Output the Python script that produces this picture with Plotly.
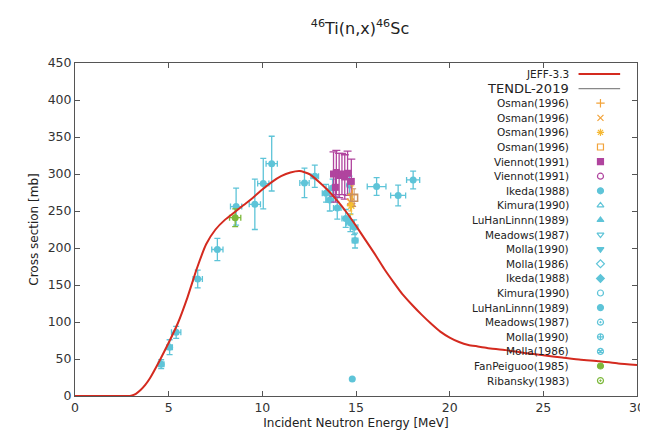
import plotly.graph_objects as go

# ---------------- data ----------------
jeff_E = [0, 1, 2, 2.8, 3.0, 3.25, 3.5, 3.75, 4.0, 4.5, 5.0, 5.5, 6.0, 6.5, 7.0, 7.5, 8.0, 8.5,
          9.0, 9.5, 10.0, 10.5, 11.0, 11.5, 12.0, 12.5, 13.0, 13.5, 14.0, 14.5, 15.0, 15.5,
          16.0, 16.5, 17.0, 17.5, 18.0, 18.5, 19.0, 19.5, 20.0, 20.5, 21.0, 21.5, 22, 23, 24,
          25, 26, 27, 28, 29, 30]
jeff_xs = [0, 0, 0, 0, 0.5, 3, 8, 15, 24, 47, 72, 99, 133, 172, 205, 225, 238, 248,
           258, 268, 279, 289, 297, 302, 304, 300, 290, 278, 264, 248, 230, 211,
           192, 172, 154, 137, 123, 110, 98, 87, 79, 73, 69, 67, 65, 62, 58,
           55, 52, 49, 47, 44, 42]

ikeda_E = [4.6, 5.05, 5.4, 6.55, 7.6, 8.6, 9.6, 10.05, 10.5, 12.25, 12.8, 13.4, 13.6, 13.75,
           14.0, 14.45, 14.7, 14.9, 14.95, 14.65, 14.8, 16.1, 17.25, 18.05]
ikeda_xs = [43, 66, 86, 158, 198, 256, 259, 287, 314, 288, 297, 274, 265, 281,
            254, 240, 234, 228, 210, 285, 23, 283, 271, 292]
ikeda_dE = [0.15, 0.15, 0.25, 0.25, 0.3, 0.3, 0.3, 0.3, 0.3, 0.25, 0.2, 0.2, 0.2, 0.2,
            0.2, 0.2, 0.2, 0.2, 0.15, 0.1, 0, 0.5, 0.4, 0.35]
ikeda_dxs = [6, 10, 8, 12, 15, 25, 34, 34, 37, 20, 15, 12, 15, 12,
             15, 12, 12, 10, 10, 12, 0, 12, 14, 12]

viennot_E = [13.8, 13.95, 14.1, 14.25, 14.4, 14.55, 14.75, 13.9]
viennot_xs = [300, 302, 298, 300, 296, 301, 290, 282]
viennot_dxs = [30, 30, 30, 28, 30, 30, 30, 20]

osman_plus_E, osman_plus_xs = [14.8], [272]
osman_x_E, osman_x_xs = [14.7], [262]
osman_star_E, osman_star_xs = [14.75], [257]
osman_sq_E, osman_sq_xs = [14.9], [268]

fan_E, fan_xs, fan_dE, fan_dxs = [8.55], [241], [0.3], [12]

legend_labels = ["JEFF-3.3", "TENDL-2019", "Osman(1996)", "Osman(1996)", "Osman(1996)", "Osman(1996)",
                 "Viennot(1991)", "Viennot(1991)", "Ikeda(1988)", "Kimura(1990)", "LuHanLinnn(1989)",
                 "Meadows(1987)", "Molla(1990)", "Molla(1986)", "Ikeda(1988)", "Kimura(1990)",
                 "LuHanLinnn(1989)", "Meadows(1987)", "Molla(1990)", "Molla(1986)",
                 "FanPeiguoo(1985)", "Ribansky(1983)"]

x_ticks = [0, 5, 10, 15, 20, 25, 30]
y_ticks = [0, 50, 100, 150, 200, 250, 300, 350, 400, 450]

# ---------------- styles ----------------
RED = "#d42a1f"
CYAN = "#5ec4d8"
PURPLE = "#b0449e"
ORANGE = "#f2a33a"
GREEN = "#7cb83a"
GRAY = "#888888"
FONT = "DejaVu Sans"

legend_symbols = [None, None,
                  ("cross-thin-open", ORANGE), ("x-thin-open", ORANGE), ("asterisk-open", "#f5b935"),
                  ("square-open", ORANGE), ("square", PURPLE), ("circle-open", PURPLE),
                  ("circle", CYAN), ("triangle-up-open", CYAN), ("triangle-up", CYAN),
                  ("triangle-down-open", CYAN), ("triangle-down", CYAN), ("diamond-open", CYAN),
                  ("diamond", CYAN), ("circle-open", CYAN), ("circle", CYAN),
                  ("circle-open-dot", CYAN), ("circle-cross-open", CYAN), ("circle-x-open", CYAN),
                  ("circle-x", GREEN), ("circle-open-dot", GREEN)]

fig = go.Figure()

err_style = dict(color=CYAN, thickness=1.3, width=3)

fig.add_trace(go.Scatter(
    x=ikeda_E, y=ikeda_xs, mode="markers",
    marker=dict(symbol="circle", size=7, color=CYAN),
    error_y=dict(type="data", array=ikeda_dxs, **err_style),
    error_x=dict(type="data", array=ikeda_dE, **err_style),
    showlegend=False))

fig.add_trace(go.Scatter(
    x=viennot_E, y=viennot_xs, mode="markers",
    marker=dict(symbol="square", size=7, color=PURPLE),
    error_y=dict(type="data", array=viennot_dxs, color=PURPLE, thickness=1.3, width=4),
    error_x=dict(type="data", array=[0.12] * len(viennot_E), color=PURPLE, thickness=1.3, width=0),
    showlegend=False))

for xs_, ys_, sym, col in [(osman_plus_E, osman_plus_xs, "cross-thin-open", ORANGE),
                           (osman_x_E, osman_x_xs, "x-thin-open", ORANGE),
                           (osman_star_E, osman_star_xs, "asterisk-open", "#f5c030"),
                           (osman_sq_E, osman_sq_xs, "square-open", "#c89060")]:
    fig.add_trace(go.Scatter(x=xs_, y=ys_, mode="markers",
                             marker=dict(symbol=sym, size=7, color=col, line=dict(width=1.5, color=col)),
                             error_y=dict(type="data", array=[12], color=col, thickness=1, width=2),
                             showlegend=False))

fig.add_trace(go.Scatter(
    x=fan_E, y=fan_xs, mode="markers",
    marker=dict(symbol="circle", size=7, color=GREEN),
    error_y=dict(type="data", array=fan_dxs, color=GREEN, thickness=1.3, width=3),
    error_x=dict(type="data", array=fan_dE, color=GREEN, thickness=1.3, width=3),
    showlegend=False))

fig.add_trace(go.Scatter(
    x=jeff_E, y=jeff_xs, mode="lines",
    line=dict(color=RED, width=2, shape="spline", smoothing=0.5),
    showlegend=False))

# ---------------- custom gnuplot-style legend (overlay axis in 0..1 units) ----------------
PLOT_TOP, PLOT_BOTTOM = 55, 388
row_py = [66 + 14.6 * i for i in range(len(legend_labels))]
row_fy = [(PLOT_BOTTOM - p) / (PLOT_BOTTOM - PLOT_TOP) for p in row_py]
TEXT_X = 0.882
SYM_X = 0.935

for i, lab in enumerate(legend_labels):
    fig.add_annotation(x=TEXT_X, y=row_fy[i], xref="x2", yref="y2", text=lab,
                       showarrow=False, xanchor="right", yanchor="middle",
                       font=dict(family=FONT, size=13 if i == 1 else 10.5, color="#222"))

for i, col in [(0, RED), (1, GRAY)]:
    fig.add_trace(go.Scatter(x=[0.896, 0.970], y=[row_fy[i]] * 2, mode="lines",
                             line=dict(color=col, width=2 if i == 0 else 1.2),
                             xaxis="x2", yaxis="y2", showlegend=False, hoverinfo="skip"))

for i, s in enumerate(legend_symbols):
    if s is None:
        continue
    sym, col = s
    fig.add_trace(go.Scatter(x=[SYM_X], y=[row_fy[i]], mode="markers",
                             marker=dict(symbol=sym, size=6, color=col, line=dict(width=1.2, color=col)),
                             xaxis="x2", yaxis="y2", showlegend=False, hoverinfo="skip"))

axis_common = dict(showgrid=False, zeroline=False, showline=True, linecolor="#555", linewidth=1,
                   mirror="allticks", ticks="inside", ticklen=5, tickcolor="#555",
                   tickfont=dict(family=FONT, size=12.5, color="#333"))

fig.update_layout(
    width=648, height=435,
    margin=dict(l=67, r=11, t=55, b=47),
    paper_bgcolor="white", plot_bgcolor="white",
    title=dict(text="<sup>46</sup>Ti(n,x)<sup>46</sup>Sc", x=(67 + 637) / 2 / 648, xanchor="center",
               y=1 - 20 / 435, yanchor="middle", font=dict(family=FONT, size=16, color="#222")),
    xaxis=dict(range=[0, 30], tickvals=x_ticks, ticktext=[str(v) for v in x_ticks],
               title=dict(text="Incident Neutron Energy [MeV]", font=dict(family=FONT, size=12, color="#222"),
                          standoff=4),
               **axis_common),
    yaxis=dict(range=[0, 450], tickvals=y_ticks, ticktext=[str(v) for v in y_ticks],
               title=dict(text="Cross section [mb]", font=dict(family=FONT, size=12, color="#222"),
                          standoff=6),
               **axis_common),
    xaxis2=dict(range=[0, 1], overlaying="x", visible=False, fixedrange=True),
    yaxis2=dict(range=[0, 1], overlaying="y", visible=False, fixedrange=True),
)

fig.write_html("out.html")
